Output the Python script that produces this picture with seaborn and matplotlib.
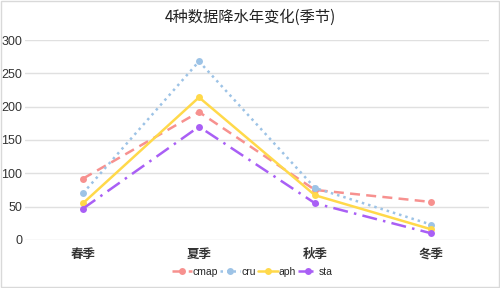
import pandas as pd
import seaborn as sns
import matplotlib.pyplot as plt
from matplotlib.patches import Rectangle

# ---------------------------- DATA ----------------------------
seasons = ['春季', '夏季', '秋季', '冬季']
cmap = [92, 192, 75, 57]
cru = [70, 268, 78, 23]
aph = [55, 214, 67, 16]
sta = [47, 170, 55, 10]

df = pd.DataFrame({'季节': seasons * 4,
                   '降水': cmap + cru + aph + sta,
                   'source': ['cmap'] * 4 + ['cru'] * 4 + ['aph'] * 4 + ['sta'] * 4})

sns.set_style('white')
plt.rcParams['font.family'] = ['Liberation Sans', 'Noto Sans CJK SC', 'DejaVu Sans']

colors = {'cmap': '#f7918f', 'cru': '#9dc3e6', 'aph': '#ffd94a', 'sta': '#a95ff5'}
dashes = {'cmap': (4, 2.5), 'cru': (1, 1.6), 'aph': '', 'sta': (6, 2.5, 1, 2.5)}

fig = plt.figure(figsize=(5, 2.88), dpi=100)
ax = fig.add_axes([0.05, 0.167, 0.928, 0.694])

sns.lineplot(data=df, x='季节', y='降水', hue='source', style='source',
             palette=colors, dashes=dashes, markers={k: 'o' for k in colors},
             markersize=5, markeredgewidth=0, linewidth=1.8, ax=ax)

ax.set_xlim(-0.5, 3.5)
ax.set_ylim(0, 300)
ax.set_yticks(range(0, 301, 50))
ax.yaxis.grid(True, color='#e0e0e0', linewidth=1)
ax.xaxis.grid(False)
for s in ax.spines.values():
    s.set_visible(False)
ax.tick_params(axis='y', labelsize=9, pad=2, length=0, labelcolor='#333333')
ax.tick_params(axis='x', labelsize=9, pad=6, length=0, labelcolor='#333333')
for lab in ax.get_xticklabels():
    lab.set_fontfamily(['Noto Sans CJK SC'])
    lab.set_fontweight('bold')
ax.set_xlabel('')
ax.set_ylabel('')

ax.legend(loc='center', bbox_to_anchor=(0.49, -0.16), ncol=4, frameon=False,
          fontsize=7.5, handlelength=1.9, handletextpad=0.1, columnspacing=0.2)

fig.text(0.5, 0.94, '4种数据降水年变化(季节)', ha='center', va='center',
         fontsize=11, color='#222222', family=['Noto Sans CJK SC'], fontweight='medium')
fig.patches.append(Rectangle((0.002, 0.003), 0.996, 0.994, transform=fig.transFigure,
                             fill=False, edgecolor='#d9d9d9', linewidth=1))

fig.savefig('out.png', dpi=100)
